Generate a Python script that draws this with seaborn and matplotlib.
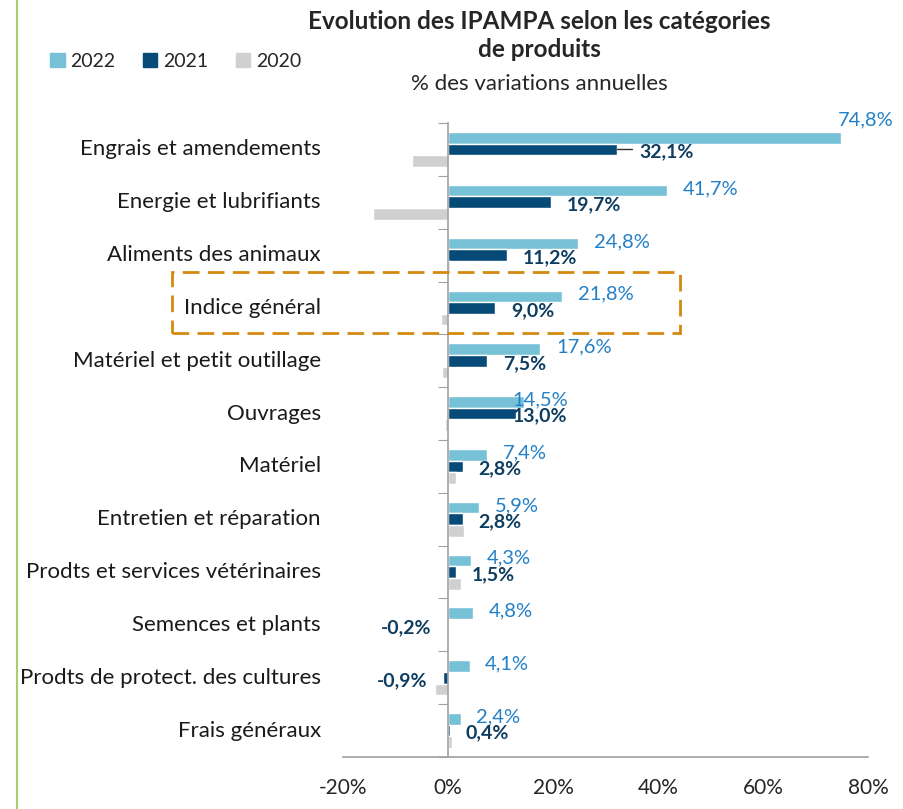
import numpy as np
import pandas as pd
import seaborn as sns
from matplotlib import pyplot as plt
from matplotlib.lines import Line2D
from matplotlib.patches import Rectangle
import matplotlib.transforms as mtransforms

# Données (% de variation annuelle)
categories = ['Engrais et amendements', 'Energie et lubrifiants', 'Aliments des animaux',
              'Indice général', 'Matériel et petit outillage', 'Ouvrages', 'Matériel',
              'Entretien et réparation', 'Prodts et services vétérinaires',
              'Semences et plants', 'Prodts de protect. des cultures', 'Frais généraux']
v2022 = [74.8, 41.7, 24.8, 21.8, 17.6, 14.5, 7.4, 5.9, 4.3, 4.8, 4.1, 2.4]
v2021 = [32.1, 19.7, 11.2, 9.0, 7.5, 13.0, 2.8, 2.8, 1.5, -0.2, -0.9, 0.4]
v2020 = [-6.9, -14.3, 0.4, -1.4, -1.2, -0.6, 1.5, 3.0, 2.5, 0.1, -2.5, 0.8]
years = ['2022', '2021', '2020']

df = pd.DataFrame({
    'cat': categories * 3,
    'annee': np.repeat(years, len(categories)),
    'val': v2022 + v2021 + v2020,
})

couleurs = {'2022': '#77C1D6', '2021': '#064A77', '2020': '#D0D0D0'}
bleu_lab = '#2280C8'
navy_lab = '#0E3D60'

sns.set_style('white')
plt.rcParams['font.family'] = ['Lato', 'DejaVu Sans']

fig = plt.figure(figsize=(9.04, 8.09), dpi=100)
ax = fig.add_axes([0.3794, 0.0643, 0.5808, 0.7836])

sns.barplot(data=df, y='cat', x='val', hue='annee', hue_order=years, order=categories,
            palette=couleurs, orient='h', width=0.66, ax=ax, legend=False, saturation=1)

ax.set_xlim(-20, 80)
ax.set_ylim(len(categories) - 0.5, -0.5)
ax.set_xticks([-20, 0, 20, 40, 60, 80])
ax.set_xticklabels([f'{t}%' for t in [-20, 0, 20, 40, 60, 80]], fontsize=15)
ax.tick_params(axis='x', direction='out', length=7, color='#A0A0A0', pad=8)
ax.set_xlabel('')
ax.set_ylabel('')

# axe vertical à 0, graduations entre catégories
ax.spines['left'].set_position(('data', 0))
ax.set_yticks(np.arange(-0.5, len(categories), 1))
ax.set_yticklabels([])
ax.tick_params(axis='y', direction='out', length=7, color='#A0A0A0', left=True)
for s in ['top', 'right']:
    ax.spines[s].set_visible(False)
for s in ['left', 'bottom']:
    ax.spines[s].set_color('#A0A0A0')
    ax.spines[s].set_linewidth(1.2)

trans = mtransforms.blended_transform_factory(ax.transAxes, ax.transData)
for i, c in enumerate(categories):
    ax.text(-0.042, i, c, transform=trans, ha='right', va='center', fontsize=16, color='#1a1a1a')

# étiquettes de valeurs
off = 3.0
pos22 = {0: (74.3, -0.56), 5: (12.2, None)}
pos21 = {0: (36.4, None), 5: (12.4, None)}
for i in range(len(categories)):
    x, y = v2022[i] + off, i - 0.26
    if i in pos22:
        x = pos22[i][0]
        y = pos22[i][1] if pos22[i][1] is not None else y
    ax.text(x, y, f'{v2022[i]:.1f}%'.replace('.', ','), ha='left', va='center',
            fontsize=14.5, color=bleu_lab)
    v = v2021[i]
    lab = f'{v:.1f}%'.replace('.', ',')
    if i in pos21:
        ax.text(pos21[i][0], i + 0.05, lab, ha='left', va='center', fontsize=14,
                fontweight='bold', color=navy_lab)
    elif v >= 0:
        ax.text(v + off, i + 0.05, lab, ha='left', va='center', fontsize=14,
                fontweight='bold', color=navy_lab)
    else:
        ax.text(v - off, i + 0.05, lab, ha='right', va='center', fontsize=14,
                fontweight='bold', color=navy_lab)

# trait de rappel pour 32,1 %
ax.plot([v2021[0], v2021[0] + 3.0], [0.0, 0.0], color='#333333', lw=1)

# titre
fig.text(0.597, 0.988, 'Evolution des IPAMPA selon les catégories\nde produits', ha='center',
         va='top', fontsize=17.5, fontweight='bold', linespacing=1.3)
fig.text(0.597, 0.896, '% des variations annuelles', ha='center', va='center', fontsize=16)

# légende
handles = [Rectangle((0, 0), 1, 1, color=couleurs[y]) for y in years]
fig.legend(handles, years, loc='center left', bbox_to_anchor=(0.036, 0.924), ncol=3,
           frameon=False, fontsize=14, handlelength=0.75, handleheight=0.75,
           handletextpad=0.3, columnspacing=1.4)

# cadre pointillé autour de l'indice général
fig.add_artist(Rectangle((172 / 904, 1 - 333 / 809), (680 - 172) / 904, (333 - 272) / 809,
                         transform=fig.transFigure, fill=False, ec='#D4890F', lw=2,
                         ls=(0, (6, 3))))

# filet vert à gauche
fig.add_artist(Line2D([17 / 904, 17 / 904], [0, 1], transform=fig.transFigure,
                      color='#A8CF6A', lw=1.5))

fig.savefig('out.png', dpi=100)
